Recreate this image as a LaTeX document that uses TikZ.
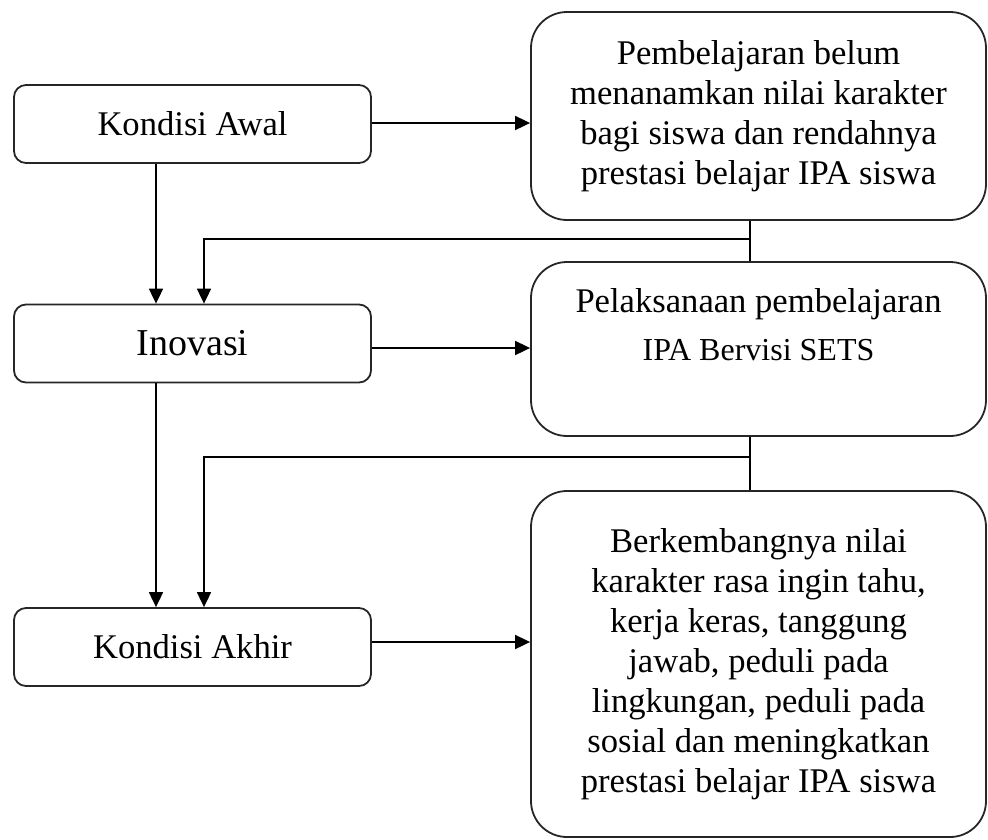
\documentclass[tikz,border=0pt]{standalone}
\usepackage{fontspec}
\setmainfont{Liberation Serif}
\usetikzlibrary{arrows.meta}
\tikzset{
  smallbox/.style={draw=black!85, line width=1.8pt, rounded corners=12pt,
    minimum width=357pt, minimum height=78pt, inner sep=0pt,
    font=\fontsize{34.6}{40}\selectfont},
  bigbox/.style={draw=black!85, line width=1.8pt, rounded corners=36pt,
    minimum width=455pt, inner sep=0pt, align=center,
    font=\fontsize{34.6}{40}\selectfont},
  plain/.style={inner sep=0pt, font=\fontsize{34.6}{40}\selectfont},
  arr/.style={line width=1.8pt, -{Triangle[length=15pt,width=14pt]}},
  ln/.style={line width=1.8pt}
}
\begin{document}
\begin{tikzpicture}[x=1pt,y=-1pt]
\useasboundingbox (0,0) rectangle (988,839);
% left boxes
\node[smallbox] (ka) at (192.5,124) {Kondisi Awal};
\node[smallbox, font=\fontsize{38}{44}\selectfont] (inov) at (192.5,343.5) {Inovasi};
\node[smallbox] (kak) at (192.5,647) {Kondisi Akhir};
% right boxes
\node[bigbox, minimum height=208pt] (b1) at (758.5,116)
  {Pembelajaran belum\\menanamkan nilai karakter\\bagi siswa dan rendahnya\\prestasi belajar IPA siswa};
\node[bigbox, minimum height=174pt] (b2) at (758.5,349) {};
\node[plain, anchor=base] (t2a) at (758.5,312) {Pelaksanaan pembelajaran};
\node[plain, anchor=base, font=\fontsize{32}{38}\selectfont] (t2b) at (758.5,360) {IPA Bervisi SETS};
\node[bigbox, minimum height=346pt] (b3) at (758.5,664)
  {Berkembangnya nilai\\karakter rasa ingin tahu,\\kerja keras, tanggung\\jawab, peduli pada\\lingkungan, peduli pada\\sosial dan meningkatkan\\prestasi belajar IPA siswa};
% helper coordinates
\coordinate (xa) at (156,0);
\coordinate (xb) at (204,0);
\coordinate (j1) at (750,239);
\coordinate (j2) at (750,457);
% horizontal arrows
\draw[arr] ([yshift=1pt]ka.east) -- ([yshift=1pt]ka.east -| b1.west);
\draw[arr] ([yshift=-4.5pt]inov.east) -- ([yshift=-4.5pt]inov.east -| b2.west);
\draw[arr] ([yshift=5pt]kak.east) -- ([yshift=5pt]kak.east -| b3.west);
% vertical arrows
\draw[arr] (ka.south -| xa) -- (inov.north -| xa);
\draw[arr] (inov.south -| xa) -- (kak.north -| xa);
% feedback lines
\draw[arr] (b1.south -| j1) -- (j1) -| (inov.north -| xb);
\draw[ln] (j1) -- (b2.north -| j1);
\draw[arr] (b2.south -| j2) -- (j2) -| (kak.north -| xb);
\draw[ln] (j2) -- (b3.north -| j2);
\end{tikzpicture}
\end{document}
